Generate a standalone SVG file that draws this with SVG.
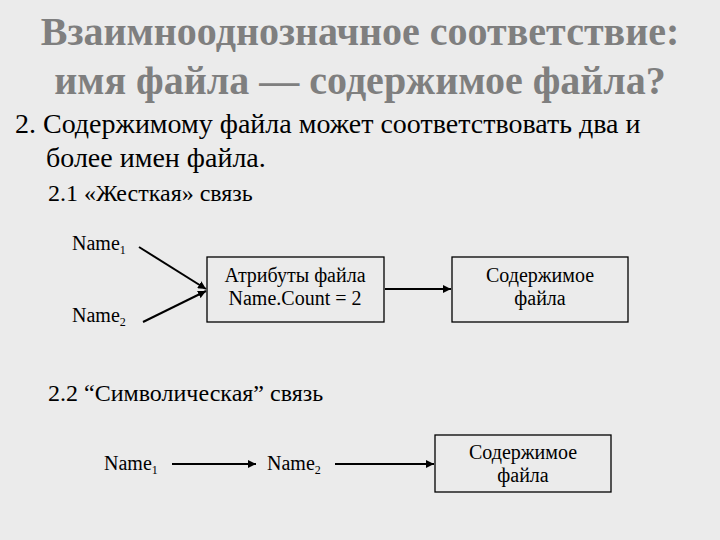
<svg xmlns="http://www.w3.org/2000/svg" width="720" height="540" viewBox="0 0 720 540" font-family="'Liberation Serif', 'DejaVu Serif', serif">
<style>
text{font-family:"Liberation Serif","DejaVu Serif",serif;fill:#000}
.t{font-size:40px;font-weight:bold;fill:#7f7f7f;text-anchor:middle}
.b{font-size:28px}
.s{font-size:24px}
.n{font-size:20px}
.c{font-size:20px;text-anchor:middle}
rect{fill:none;stroke:#000;stroke-width:1.3}
line{stroke:#000;stroke-width:2}
</style>
<defs><marker id="a" viewBox="0 0 10 10" refX="10" refY="5" markerWidth="4" markerHeight="4" orient="auto"><path d="M0,0L10,5L0,10z" fill="#000"/></marker></defs>
<rect x="0" y="0" width="720" height="540" style="fill:#ebebeb;stroke:none"/>
<text class="t" x="360" y="45">Взаимнооднозначное соответствие:</text>
<text class="t" x="360" y="94">имя файла — содержимое файла?</text>
<text class="b" x="15" y="133">2.  Содержимому файла может соответствовать два и</text>
<text class="b" x="46" y="167">более имен файла.</text>
<text class="s" x="48" y="201">2.1 «Жесткая» связь</text>
<g id="n1"><text class="n" x="72" y="250">Name<tspan font-size="12" dy="4">1</tspan></text></g>
<g id="n2"><text class="n" x="72" y="322">Name<tspan font-size="12" dy="4">2</tspan></text></g>
<g id="attr"><rect x="207" y="257" width="177" height="65"/><text class="c" x="295" y="282">Атрибуты файла</text><text class="c" x="295" y="305">Name.Count = 2</text></g>
<g id="cont1"><rect x="452" y="257" width="176" height="65"/><text class="c" x="540" y="282">Содержимое</text><text class="c" x="540" y="305">файла</text></g>
<text class="s" x="48" y="401">2.2 “Символическая” связь</text>
<g id="s1"><text class="n" x="104" y="470">Name<tspan font-size="12" dy="4">1</tspan></text></g>
<g id="s2"><text class="n" x="267" y="470">Name<tspan font-size="12" dy="4">2</tspan></text></g>
<g id="cont2"><rect x="435" y="435" width="176" height="57"/><text class="c" x="523" y="459">Содержимое</text><text class="c" x="523" y="482">файла</text></g>
<g id="connectors">
<line x1="139" y1="247" x2="206" y2="289" marker-end="url(#a)"/>
<line x1="143" y1="322" x2="206" y2="291" marker-end="url(#a)"/>
<line x1="385" y1="289" x2="451" y2="289" marker-end="url(#a)"/>
<line x1="172" y1="464" x2="256" y2="464" marker-end="url(#a)"/>
<line x1="335" y1="464" x2="434" y2="464" marker-end="url(#a)"/>
</g>
</svg>
